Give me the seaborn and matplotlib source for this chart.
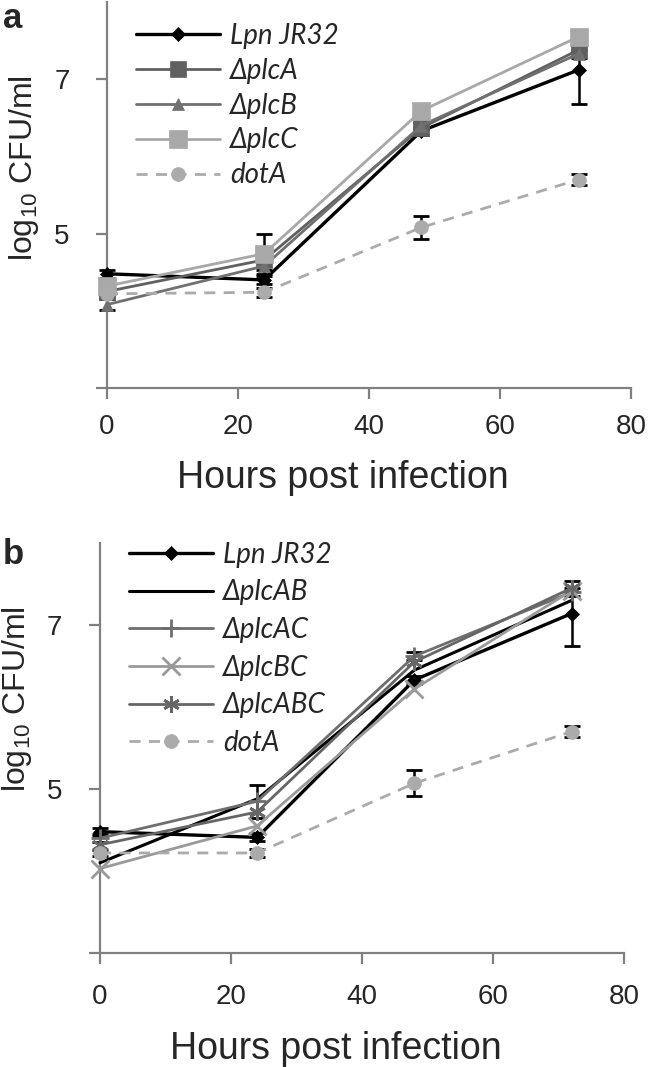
import matplotlib
matplotlib.use('Agg')
import matplotlib.pyplot as plt
import seaborn as sns
import pandas as pd
import numpy as np

# time points (hours post infection)
hours = [0, 24, 48, 72]

# panel a: log10 CFU/ml
a_names = ['Lpn JR32', 'ΔplcA', 'ΔplcB', 'ΔplcC', 'dotA']
a_lpn = [4.48, 4.40, 6.33, 7.12]
a_plcA = [4.25, 4.66, 6.37, 7.38]
a_plcB = [4.08, 4.58, 6.40, 7.33]
a_plcC = [4.32, 4.74, 6.59, 7.55]
a_dotA = [4.22, 4.24, 5.08, 5.70]
a_err = {
    'Lpn JR32': [0.05, 0.05, 0.05, 0.44],
    'ΔplcB': [0.07, 0.05, 0.05, 0.05],
    'ΔplcC': [0.05, 0.26, 0.05, 0.05],
    'dotA': [0.04, 0.06, 0.15, 0.07],
}

# panel b
b_names = ['Lpn JR32', 'ΔplcAB', 'ΔplcAC', 'ΔplcBC', 'ΔplcABC', 'dotA']
b_lpn = [4.48, 4.41, 6.33, 7.14]
b_plcAB = [4.10, 4.88, 6.45, 7.30]
b_plcAC = [4.40, 4.85, 6.62, 7.40]
b_plcBC = [4.03, 4.55, 6.22, 7.42]
b_plcABC = [4.32, 4.72, 6.55, 7.45]
b_dotA = [4.22, 4.22, 5.07, 5.70]
b_err = {
    'Lpn JR32': [0.05, 0.05, 0.05, 0.40],
    'ΔplcAC': [0.05, 0.20, 0.05, 0.05],
    'dotA': [0.04, 0.05, 0.16, 0.07],
}

# style per strain: colour, marker, marker size, line width, dashed
styles = {
    'Lpn JR32': ('#000000', 'D', 7, 2.4, False),
    'ΔplcA': ('#606060', 's', 11, 2.0, False),
    'ΔplcB': ('#707070', '^', 9, 2.0, False),
    'ΔplcC': ('#a8a8a8', 's', 13, 2.0, False),
    'dotA': ('#ababab', 'o', 10, 2.0, True),
    'ΔplcAB': ('#000000', None, 0, 2.2, False),
    'ΔplcAC': ('#6e6e6e', '+', 13, 2.0, False),
    'ΔplcBC': ('#9a9a9a', 'x', 13, 2.0, False),
    'ΔplcABC': ('#666666', (6, 2, 0), 12, 2.0, False),
}

sns.set_style('white')
plt.rcParams['font.family'] = ['Liberation Sans', 'DejaVu Sans']
plt.rcParams['mathtext.fontset'] = 'custom'
plt.rcParams['mathtext.rm'] = 'Liberation Sans'
plt.rcParams['mathtext.it'] = 'Liberation Sans:italic'

fig = plt.figure(figsize=(6.5, 10.67), dpi=100)
ax_a = fig.add_axes([107 / 650, 1 - 388 / 1067, 524 / 650, 386 / 1067])
ax_b = fig.add_axes([100 / 650, 1 - 953 / 1067, 524 / 650, 410 / 1067])


def draw_panel(ax, names, series, errs, leg_y, spacing, xpad, ylab_y, xlab_y):
    rows = []
    for name, vals in zip(names, series):
        for h, v in zip(hours, vals):
            rows.append({'strain': name, 'hours': h, 'cfu': v})
    df = pd.DataFrame(rows)
    handles = []
    for name in names:
        col, mk, ms, lw, dashed = styles[name]
        sub = df[df['strain'] == name]
        sns.lineplot(data=sub, x='hours', y='cfu', ax=ax, color=col,
                     marker=mk, markersize=ms, linewidth=lw,
                     markeredgecolor=col,
                     markeredgewidth=2 if mk in ('+', 'x', (6, 2, 0)) else 0.5,
                     linestyle=(0, (4, 3)) if dashed else '-', legend=False, zorder=3)
        handles.append(ax.lines[-1])
        if name in errs:
            ax.errorbar(sub['hours'], sub['cfu'], yerr=errs[name], fmt='none',
                        ecolor='black', elinewidth=1.8, capsize=6, capthick=2, zorder=2)
    ax.set_xlim(0, 80)
    ax.set_ylim(3, 8)
    ax.set_xticks([0, 20, 40, 60, 80])
    ax.set_yticks([3, 5, 7])
    ax.set_yticklabels(['', '5', '7'])
    for s in ['top', 'right']:
        ax.spines[s].set_visible(False)
    for s in ['left', 'bottom']:
        ax.spines[s].set_color('#808080')
        ax.spines[s].set_linewidth(1.6)
    ax.tick_params(axis='both', direction='out', length=8, width=1.6,
                   color='#808080', labelsize=20, left=True, bottom=True)
    ax.tick_params(axis='x', pad=xpad)
    ax.tick_params(axis='y', pad=19)
    ax.set_xlabel('Hours post infection', fontsize=27)
    ax.xaxis.set_label_coords(0.45, xlab_y)
    ax.set_ylabel(r'log$_{10}$ CFU/ml', fontsize=23)
    ax.yaxis.set_label_coords(-0.125, ylab_y)
    for ln in ax.lines:
        ln.set_clip_on(False)
    ax.legend(handles, names, loc='upper left', bbox_to_anchor=(0.035, leg_y),
              frameon=False, handlelength=3.0, labelspacing=spacing,
              borderaxespad=0, handletextpad=0.36,
              prop={'family': ['Lato', 'DejaVu Sans'], 'style': 'italic', 'size': 20})


draw_panel(ax_a, a_names, [a_lpn, a_plcA, a_plcB, a_plcC, a_dotA], a_err,
           0.975, 0.32, 11, 0.57, -0.187)
draw_panel(ax_b, b_names, [b_lpn, b_plcAB, b_plcAC, b_plcBC, b_plcABC, b_dotA], b_err,
           1.03, 0.42, 14, 0.62, -0.19)

fig.text(0.005, 1 - 2 / 1067, 'a', fontsize=25, fontweight='bold', va='top')
fig.text(0.005, 1 - 538 / 1067, 'b', fontsize=25, fontweight='bold', va='top')

fig.savefig('out.png', dpi=100)
